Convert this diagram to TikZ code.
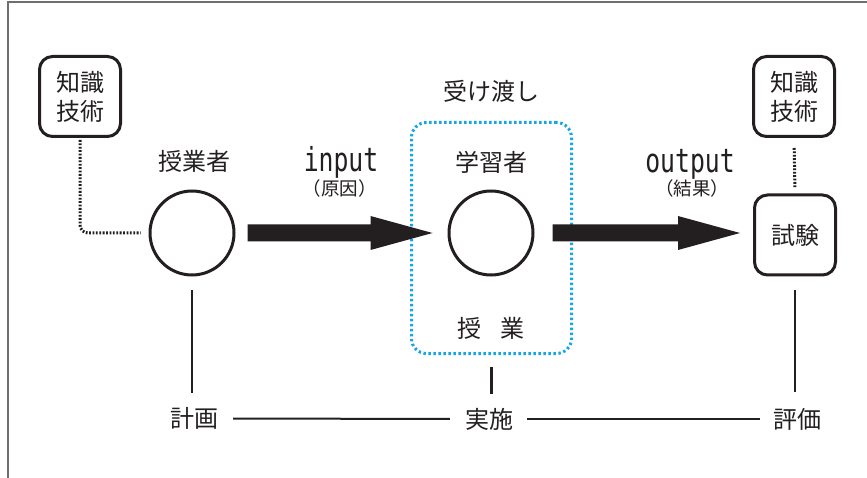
\documentclass[tikz,border=0pt]{standalone}
\usepackage{fontspec}
\newfontfamily\jpfont{Noto Sans CJK JP}
\newfontfamily\monofnt[FakeStretch=0.75]{DejaVu Sans Mono}
\usetikzlibrary{calc}
\definecolor{ink}{RGB}{35,31,32}
\definecolor{dotblue}{RGB}{24,165,228}
\definecolor{framegray}{RGB}{110,110,110}
\newcommand\fatarrow[2]{\fill[ink] ($#1+(0,-8.5)$) -- ($#2+(-62,-8.5)$) -- ($#2+(-62,-17)$) -- #2 -- ($#2+(-62,17)$) -- ($#2+(-62,8.5)$) -- ($#1+(0,8.5)$) -- cycle;}
\begin{document}
\begin{tikzpicture}[x=1pt,y=-1pt,
  jp/.style={font=\jpfont\fontsize{24}{29}\selectfont, text=ink, inner sep=0pt},
  jpsmall/.style={font=\jpfont\fontsize{18.5}{20}\selectfont, text=ink, inner sep=0pt},
  mono/.style={font=\monofnt\fontsize{33}{33}\selectfont, text=ink, inner sep=0pt, anchor=base},
  kbox/.style={draw=ink, line width=3pt, rounded corners=13pt, minimum width=81pt, minimum height=80pt, align=center, jp, fill=white},
  ring/.style={draw=ink, line width=3pt, circle, minimum size=84pt, inner sep=0pt, fill=white},
  dotline/.style={draw=ink, line width=3pt, dash pattern=on 1.8pt off 1.6pt},
  bluebox/.style={draw=dotblue, line width=3pt, dash pattern=on 2.4pt off 2.6pt, rounded corners=15pt, minimum width=160pt, minimum height=231pt, inner sep=0pt},
  link/.style={draw=ink, line width=2.2pt},
  hlink/.style={draw=ink, line width=2pt}]
\useasboundingbox (0,0) rectangle (867,478);
\fill[white] (0,0) rectangle (867,478);
% frame
\draw[framegray, line width=1.3pt] (8,478) -- (8,2) -- (867,2);

% blue dotted box
\node[bluebox] (jg) at (491.5,238) {};

% nodes
\node[kbox] (k1) at (80,96.5) {知識\\技術};
\node[kbox] (k2) at (794,96.5) {知識\\技術};
\node[kbox] (t) at (795,235) {試験};
\node[ring] (c1) at (192,233) {};
\node[ring] (c2) at (491,233) {};

\node[jp] (l1) at (194,161) {授業者};
\node[jp] (l2) at (491.5,162) {学習者};
\node[jp] (ukewatashi) at (491,91) {受け渡し};
\node[jp] (jugyo) at (491,328.5) {授\hspace{0.8em}業};

\node[mono] (in) at (341,172) {input};
\node[jpsmall] (gen) at (339.5,188.5) {（原因）};
\node[mono] (out) at (690,173) {output};
\node[jpsmall] (kek) at (692,188.5) {（結果）};

\node[jp] (keikaku) at (194,418.5) {計画};
\node[jp] (jisshi) at (489,419) {実施};
\node[jp] (hyoka) at (797,419) {評価};

% dotted connectors
\draw[dotline, rounded corners=8pt, shorten <=2pt, shorten >=8pt] (k1.south) |- (c1.west);
\draw[dotline, shorten <=10pt, shorten >=5pt] (k2.south) -- (t.north);

% fat arrows
\coordinate (a1s) at ($(c1.east)+(12,0)$);
\coordinate (a1e) at ($(c2.west)+(-15,0)$);
\coordinate (a2s) at ($(c2.east)+(18,0)$);
\coordinate (a2e) at ($(t.west |- c2.center)+(-13,0)$);
\fatarrow{(a1s)}{(a1e)}
\fatarrow{(a2s)}{(a2e)}

% vertical links
\draw[link, shorten <=13pt, shorten >=14pt] (c1.south) -- (keikaku.north -| c1.south);
\draw[link, shorten <=12pt, shorten >=14pt] (jg.south) -- (jisshi.north -| jg.south);
\draw[link, shorten <=13pt, shorten >=16pt] (t.south) -- (hyoka.north -| t.south);

% horizontal links
\draw[hlink, shorten <=15pt, shorten >=15pt] (keikaku.east) -- (jisshi.west);
\draw[hlink, shorten <=14pt, shorten >=13pt] (jisshi.east) -- (hyoka.west);
\end{tikzpicture}
\end{document}
